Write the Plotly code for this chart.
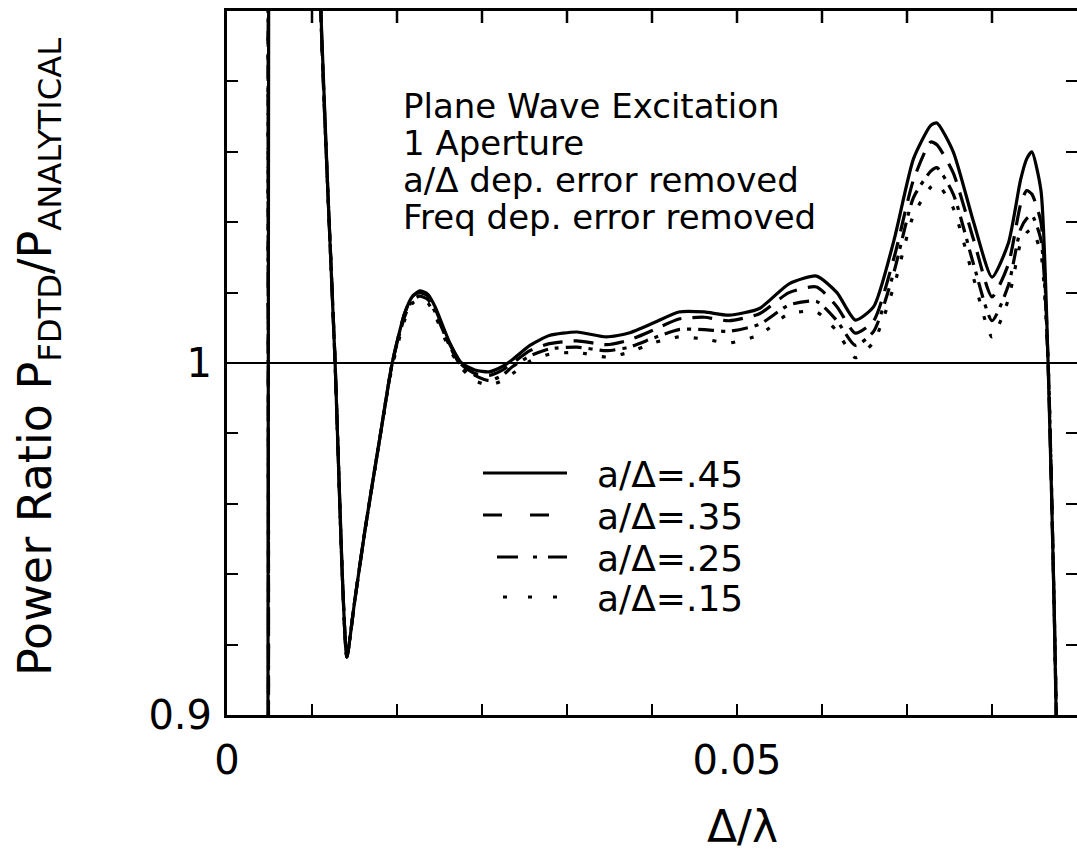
import plotly.graph_objects as go

# ---------------- data ----------------
delta_over_lambda = [0.0035, 0.0040, 0.0041, 0.0046, 0.0088, 0.0092, 0.0106, 0.0113, 0.01175, 0.0125,
                     0.0135, 0.0150, 0.0162, 0.0174, 0.0182, 0.0189, 0.0197, 0.0204, 0.0218, 0.0230,
                     0.0243, 0.0257, 0.0270, 0.0280, 0.0297, 0.0316, 0.0343, 0.0372, 0.0394, 0.0419,
                     0.0443, 0.0468, 0.0492, 0.0522, 0.0551, 0.0578, 0.0598, 0.0616, 0.0634, 0.0654,
                     0.0673, 0.0690, 0.0696, 0.0712, 0.0732, 0.0750, 0.0766, 0.0778, 0.0784, 0.0789,
                     0.0798, 0.0805, 0.0811, 0.0818]

ratio_045 = [0.80, 0.85, 1.15, 1.20, 1.20, 1.10, 1.000, 0.940, 0.9165, 0.932,
             0.952, 0.979, 1.000, 1.014, 1.019, 1.0205, 1.0195, 1.016, 1.006, 1.000,
             0.9980, 0.9975, 0.9990, 1.0010, 1.0050, 1.0078, 1.0088, 1.0074, 1.0085, 1.0115,
             1.0145, 1.0145, 1.0136, 1.0155, 1.0225, 1.0247, 1.0200, 1.0122, 1.0160, 1.0350,
             1.0580, 1.0675, 1.0682, 1.0600, 1.0400, 1.0244, 1.0340, 1.0520, 1.0580, 1.0600,
             1.0490, 1.0000, 0.9300, 0.8200]

ratio_035 = [0.80, 0.85, 1.15, 1.20, 1.20, 1.10, 1.000, 0.940, 0.9165, 0.932,
             0.952, 0.979, 1.000, 1.014, 1.019, 1.0200, 1.0190, 1.0155, 1.0055, 0.9995,
             0.9970, 0.9965, 0.9980, 1.0000, 1.0035, 1.0055, 1.0063, 1.0052, 1.0065, 1.0095,
             1.0125, 1.0130, 1.0120, 1.0140, 1.0200, 1.0216, 1.0160, 1.0085, 1.0120, 1.0300,
             1.0520, 1.0628, 1.0620, 1.0540, 1.0350, 1.0188, 1.0280, 1.0450, 1.0490, 1.0480,
             1.0400, 1.0000, 0.9300, 0.8200]

ratio_025 = [0.80, 0.85, 1.15, 1.20, 1.20, 1.10, 1.000, 0.940, 0.9165, 0.932,
             0.952, 0.979, 1.000, 1.013, 1.018, 1.0190, 1.0180, 1.0145, 1.0050, 0.9990,
             0.9965, 0.9950, 0.9965, 0.9990, 1.0020, 1.0040, 1.0045, 1.0035, 1.0045, 1.0072,
             1.0095, 1.0095, 1.0090, 1.0110, 1.0165, 1.0175, 1.0120, 1.0050, 1.0090, 1.0260,
             1.0470, 1.0545, 1.0555, 1.0480, 1.0280, 1.0120, 1.0220, 1.0380, 1.0410, 1.0420,
             1.0350, 1.0000, 0.9300, 0.8200]

ratio_015 = [0.80, 0.85, 1.15, 1.20, 1.20, 1.10, 1.000, 0.940, 0.9165, 0.932,
             0.952, 0.979, 0.999, 1.012, 1.017, 1.0180, 1.0170, 1.0135, 1.0040, 0.9985,
             0.9950, 0.9937, 0.9950, 0.9970, 1.0005, 1.0025, 1.0030, 1.0017, 1.0030, 1.0058,
             1.0074, 1.0068, 1.0057, 1.0080, 1.0140, 1.0145, 1.0090, 1.0015, 1.0060, 1.0220,
             1.0420, 1.0500, 1.0510, 1.0440, 1.0240, 1.0074, 1.0180, 1.0340, 1.0370, 1.0380,
             1.0310, 1.0000, 0.9300, 0.8200]

series_names = ["a/Δ=.45", "a/Δ=.35", "a/Δ=.25", "a/Δ=.15"]
series_values = [ratio_045, ratio_035, ratio_025, ratio_015]
series_dash = ["solid", "20px,11px", "16px,7px,4px,7px", "4px,15px"]
# y2 is the right-hand copy of the same scale (it only carries the frame ticks)
series_yaxis = ["y", "y", "y", "y2"]

x_tick_vals = [0.0, 0.05]
x_tick_text = ["0", "0.05"]
x_top_ticks = [i / 120 for i in range(1, 10)]
y_tick_vals = [0.9, 1.0]
y_tick_text = ["0.9", "1"]
y_right_ticks = [round(0.9 + 0.02 * i, 2) for i in range(11)]

info_lines = ["Plane Wave Excitation", "1 Aperture",
              "a/Δ dep. error removed", "Freq dep. error removed"]

FONT = "DejaVu Sans"

fig = go.Figure()
for name, vals, dash, yax in zip(series_names, series_values, series_dash, series_yaxis):
    fig.add_trace(go.Scatter(
        x=delta_over_lambda, y=vals, mode="lines", name=name, yaxis=yax,
        line=dict(color="black", width=3.2, dash=dash, shape="spline", smoothing=0.6),
        showlegend=False,
    ))

# plot area geometry (pixels) used to place the paper-referenced text
L, R, T, B = 227, 1077, 11, 715
PW, PH = R - L, B - T


def px(xp):
    return (xp - L) / PW


def py(yp):
    return (B - yp) / PH


fig.add_shape(type="line", xref="paper", yref="y", x0=0, x1=1, y0=1.0, y1=1.0,
              line=dict(color="black", width=2))

# inward tick marks along the top frame, placed through the x scale
for xv in x_top_ticks:
    fig.add_shape(type="line", xref="x", yref="paper", x0=xv, x1=xv,
                  y0=1.0, y1=1.0 - 12 / PH, layer="above",
                  line=dict(color="black", width=2.5))

# custom legend (line samples + labels)
legend_rows = [473, 515, 557, 597]
legend_x = [(483, 567), (483, 558), (497, 567), (503, 557)]
legend_dash = ["solid", "19px,28px", "21px,15px,4px,11px", "4px,21px"]
annotations = []
for name, dash, (lx0, lx1), row in zip(series_names, legend_dash, legend_x, legend_rows):
    fig.add_shape(type="line", xref="paper", yref="paper",
                  x0=px(lx0), x1=px(lx1), y0=py(row), y1=py(row),
                  line=dict(color="black", width=3, dash=dash))
    annotations.append(dict(
        text=name, xref="paper", yref="paper", x=px(595), y=py(row + 1),
        xanchor="left", yanchor="middle", showarrow=False,
        font=dict(family=FONT, size=36, color="black"),
    ))

# info block
for i, line in enumerate(info_lines):
    annotations.append(dict(
        text=line, xref="paper", yref="paper", x=px(401), y=py(106 + 37 * i),
        xanchor="left", yanchor="middle", showarrow=False,
        font=dict(family=FONT, size=34, color="black"),
    ))

# axis titles
annotations.append(dict(
    text="Power Ratio P<sub>FDTD</sub>/P<sub>ANALYTICAL</sub>",
    xref="paper", yref="paper", x=px(38), y=py(357), textangle=-90,
    xanchor="center", yanchor="middle", showarrow=False,
    font=dict(family=FONT, size=46, color="black"),
))
annotations.append(dict(
    text="Δ/λ", xref="paper", yref="paper", x=px(742), y=py(826),
    xanchor="center", yanchor="middle", showarrow=False,
    font=dict(family=FONT, size=44, color="black"),
))

fig.update_layout(
    width=1077, height=860,
    margin=dict(l=L, r=1077 - R, t=T, b=860 - B),
    paper_bgcolor="white", plot_bgcolor="white",
    showlegend=False,
    annotations=annotations,
    xaxis=dict(
        range=[0, 1 / 12], tickmode="array", tickvals=x_tick_vals, ticktext=x_tick_text,
        ticks="inside", ticklen=11, tickwidth=2, tickcolor="black",
        minor=dict(dtick=1 / 120, tick0=0, ticks="inside", ticklen=11, tickwidth=2,
                   tickcolor="black", showgrid=False),
        showline=True, linewidth=3, linecolor="black", mirror="ticks",
        showgrid=False, zeroline=False,
        tickfont=dict(family=FONT, size=40, color="black"),
        ticklabelstandoff=8,
    ),
    yaxis=dict(
        range=[0.9, 1.1], tickmode="array", tickvals=y_tick_vals, ticktext=y_tick_text,
        ticks="inside", ticklen=11, tickwidth=2, tickcolor="black",
        minor=dict(dtick=0.02, tick0=0.9, ticks="inside", ticklen=11, tickwidth=2,
                   tickcolor="black", showgrid=False),
        showline=True, linewidth=3, linecolor="black", mirror=False,
        showgrid=False, zeroline=False,
        tickfont=dict(family=FONT, size=40, color="black"),
        ticklabelstandoff=4,
    ),
    yaxis2=dict(
        range=[0.9, 1.1], overlaying="y", side="right", anchor="x",
        tickmode="array", tickvals=y_right_ticks, showticklabels=False,
        ticks="inside", ticklen=11, tickwidth=2, tickcolor="black",
        showline=False, showgrid=False, zeroline=False,
    ),
)

fig.write_html("out.html")
